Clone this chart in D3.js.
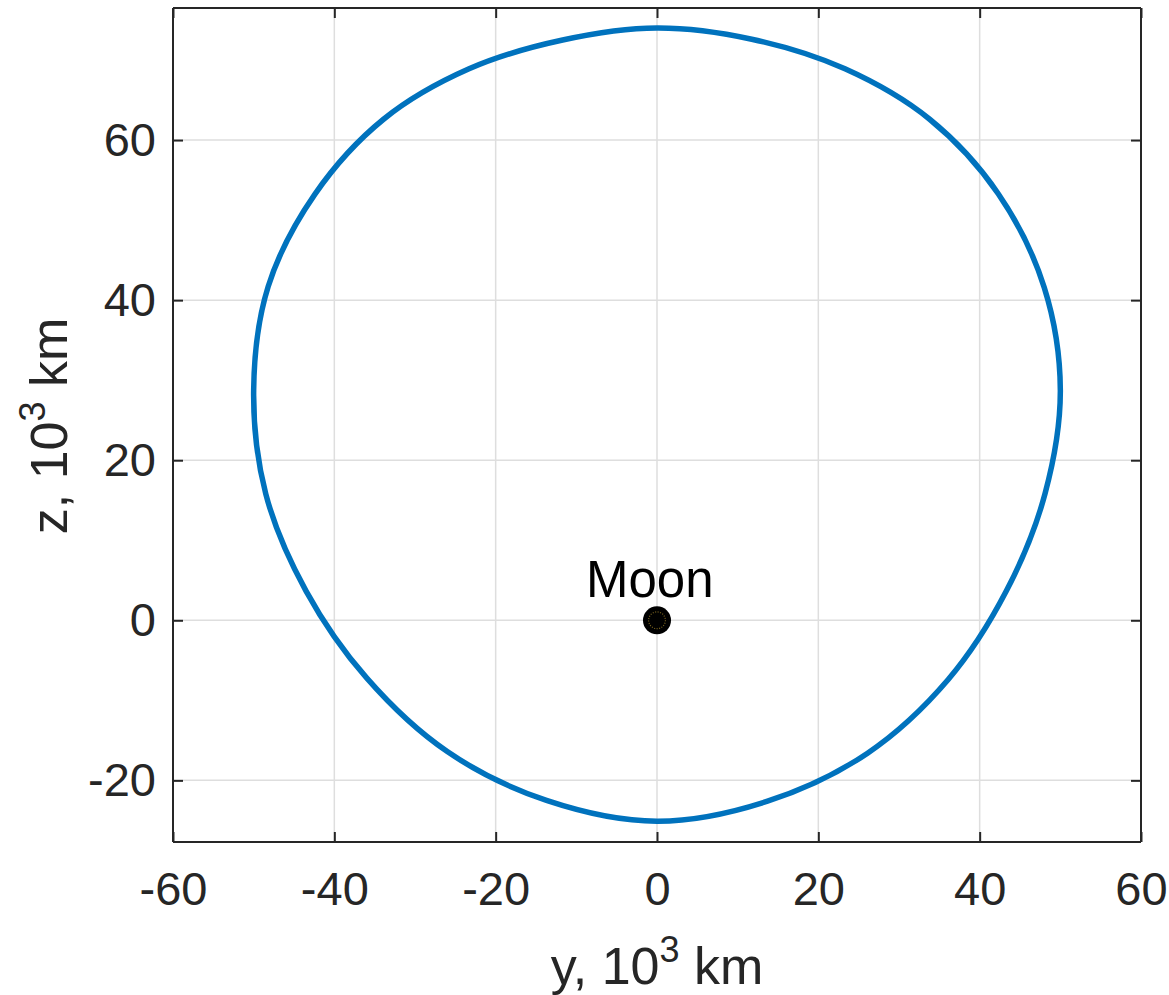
<!DOCTYPE html>
<html>
<head>
<meta charset="utf-8">
<script src="https://cdn.jsdelivr.net/npm/d3@7"></script>
<style>
  body { margin: 0; background: white; }
  text { font-family: "Liberation Sans", Arial, sans-serif; }
</style>
</head>
<body>
<script>
    orbitY = [0, 11.75, 23.3, 33.8, 42.3, 48.0, 50.0, 48.1, 43.3, 36.1, 26.1, 13.7,
              0, -13.7, -26.0, -36.0, -43.5, -48.5, -50.0, -48.2, -42.4, -33.9, -23.3, -11.7]
    orbitZ = [74.0, 72.6, 68.9, 62.6, 53.3, 41.6, 28.75, 15.8, 3.65, -7.4, -16.6, -22.6,
              -25.1, -22.5, -16.4, -7.2, 3.65, 15.8, 28.75, 41.7, 53.25, 62.6, 68.9, 72.5]

    xTicks = [-60, -40, -20, 0, 20, 40, 60]
    yTicks = [-20, 0, 20, 40, 60]
    xLimits = [-60, 60]
    yLimits = [-27.7, 76.5]

    moonR = 1.737   // moon radius, 10^3 km
    moonLabel = "Moon"

    width = 1169
    height = 995
    plotLeft = 173
    plotRight = 1141
    plotTop = 8
    plotBottom = 842

var svg = d3.select("body")
    .append("svg")
    .attr("width", width)
    .attr("height", height)

var x = d3.scaleLinear().domain(xLimits).range([plotLeft, plotRight])
var y = d3.scaleLinear().domain(yLimits).range([plotBottom, plotTop])

// grid
svg.append("g").selectAll("line")
    .data(xTicks.slice(1, -1))
    .enter().append("line")
    .attr("x1", d => x(d)).attr("x2", d => x(d))
    .attr("y1", plotTop).attr("y2", plotBottom)
    .attr("stroke", "#dedede").attr("stroke-width", 1.5)
svg.append("g").selectAll("line")
    .data(yTicks)
    .enter().append("line")
    .attr("y1", d => y(d)).attr("y2", d => y(d))
    .attr("x1", plotLeft).attr("x2", plotRight)
    .attr("stroke", "#dedede").attr("stroke-width", 1.5)

// axes, ticks pointing in, on all four sides
var axisColor = "#262626"
var plain = d => String(d)   // hyphen minus like the original
var bottomAxis = svg.append("g").attr("transform", "translate(0," + plotBottom + ")")
    .call(d3.axisBottom(x).tickValues(xTicks).tickSize(-10).tickPadding(30).tickFormat(plain))
var topAxis = svg.append("g").attr("transform", "translate(0," + plotTop + ")")
    .call(d3.axisTop(x).tickValues(xTicks).tickSize(-10).tickFormat(""))
var leftAxis = svg.append("g").attr("transform", "translate(" + plotLeft + ",0)")
    .call(d3.axisLeft(y).tickValues(yTicks).tickSize(-10).tickPadding(17).tickFormat(plain))
var rightAxis = svg.append("g").attr("transform", "translate(" + plotRight + ",0)")
    .call(d3.axisRight(y).tickValues(yTicks).tickSize(-10).tickFormat(""))

;[bottomAxis, topAxis, leftAxis, rightAxis].forEach(function (a) {
    a.select(".domain").attr("stroke", axisColor).attr("stroke-width", 2)
        .attr("d", a === bottomAxis || a === topAxis
            ? "M" + plotLeft + ",0H" + plotRight
            : "M0," + plotTop + "V" + plotBottom)
    a.selectAll(".tick line").attr("stroke", axisColor).attr("stroke-width", 2)
    a.selectAll(".tick text").attr("fill", axisColor).attr("font-size", "47px")
        .attr("font-family", "Liberation Sans, Arial, sans-serif")
})
bottomAxis.selectAll(".tick text").attr("dy", "0.71em")

// orbit
var orbitPoints = orbitY.map(function (v, i) { return [v, orbitZ[i]] })
svg.append("path")
    .datum(orbitPoints)
    .attr("d", d3.line().x(d => x(d[0])).y(d => y(d[1])).curve(d3.curveCatmullRomClosed.alpha(0.5)))
    .attr("fill", "none")
    .attr("stroke", "#0072BD")
    .attr("stroke-width", 5.5)

// moon
var moonRpx = x(moonR) - x(0)
svg.append("circle")
    .attr("cx", x(0)).attr("cy", y(0)).attr("r", moonRpx)
    .attr("fill", "black")
svg.append("circle")
    .attr("cx", x(0)).attr("cy", y(0)).attr("r", moonRpx * 0.6)
    .attr("fill", "none")
    .attr("stroke", "#7a6420")
    .attr("stroke-width", 1.2)
    .attr("stroke-dasharray", "1,1.5")
svg.append("text")
    .attr("x", x(-0.9)).attr("y", y(0) - 23)
    .attr("text-anchor", "middle")
    .attr("font-size", "51px")
    .attr("fill", "black")
    .text(moonLabel)

// axis labels
var xl = svg.append("text")
    .attr("x", x(0)).attr("y", 984)
    .attr("text-anchor", "middle")
    .attr("font-size", "52px")
    .attr("fill", axisColor)
xl.append("tspan").text("y, 10")
xl.append("tspan").attr("font-size", "36px").attr("dy", -22).text("3")
xl.append("tspan").attr("dy", 22).text(" km")

var yl = svg.append("text")
    .attr("transform", "translate(67,426) rotate(-90)")
    .attr("text-anchor", "middle")
    .attr("font-size", "52px")
    .attr("fill", axisColor)
yl.append("tspan").text("z, 10")
yl.append("tspan").attr("font-size", "36px").attr("dy", -22).text("3")
yl.append("tspan").attr("dy", 22).text(" km")
</script>
</body>
</html>
